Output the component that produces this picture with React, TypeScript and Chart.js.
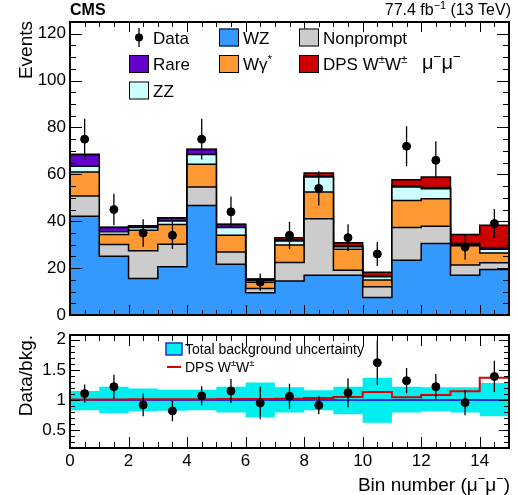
import React, { useEffect, useRef } from "react";
import { Chart, registerables } from "chart.js";
Chart.register(...registerables);

const FONT = '"Liberation Sans", Arial, Helvetica, sans-serif';

// ---- data ----
const binEdges = [0, 1, 2, 3, 4, 5, 6, 7, 8, 9, 10, 11, 12, 13, 14, 15];
const binCenters = [0.5, 1.5, 2.5, 3.5, 4.5, 5.5, 6.5, 7.5, 8.5, 9.5, 10.5, 11.5, 12.5, 13.5, 14.5];

const wz = [42.1, 25.1, 15.6, 20.6, 46.7, 21.7, 9.5, 14.5, 17.0, 17.0, 7.5, 23.4, 30.5, 17.0, 19.4];
const nonprompt = [8.7, 5.0, 11.8, 9.6, 7.9, 5.2, 1.8, 7.9, 24.1, 2.1, 4.5, 13.9, 7.4, 4.3, 2.9];
const wgamma = [10.2, 4.2, 8.8, 8.4, 9.7, 7.1, 2.7, 7.5, 11.4, 8.9, 2.9, 11.6, 11.7, 8.2, 4.2];
const zz = [2.5, 1.2, 1.1, 1.5, 4.2, 3.3, 0.7, 1.7, 6.4, 1.1, 1.4, 5.7, 4.3, 0.7, 1.5];
const rare = [4.9, 1.8, 0.7, 1.3, 2.1, 1.3, 0.5, 0.5, 0.4, 0.4, 0.3, 0.4, 0.5, 0.3, 0.7];
const dps = [0.2, 0.1, 0.1, 0.1, 0.1, 0.1, 0.2, 0.9, 1.3, 1.3, 1.6, 2.7, 4.5, 3.8, 9.6];

const dataCounts = [75, 45, 35, 34, 75, 44, 14, 34, 54, 33, 26, 72, 66, 29, 39];
const dataErr = [8.7, 6.7, 5.9, 5.8, 8.7, 6.6, 3.7, 5.8, 7.3, 5.7, 5.1, 8.5, 8.1, 5.4, 6.2];

const ratioData = [1.105, 1.22, 0.917, 0.817, 1.067, 1.15, 0.95, 1.06, 0.91, 1.12, 1.62, 1.32, 1.22, 0.955, 1.39];
const ratioErr = [0.15, 0.2, 0.19, 0.17, 0.16, 0.2, 0.27, 0.21, 0.15, 0.24, 0.37, 0.21, 0.21, 0.21, 0.26];
const bandUp = [0.15, 0.22, 0.19, 0.17, 0.17, 0.22, 0.29, 0.21, 0.16, 0.22, 0.37, 0.22, 0.21, 0.21, 0.28];
const bandDn = [0.17, 0.22, 0.19, 0.18, 0.17, 0.21, 0.29, 0.21, 0.17, 0.24, 0.38, 0.21, 0.19, 0.21, 0.27];
const dpsRatio = [1.005, 1.005, 1.01, 1.01, 1.01, 1.015, 1.015, 1.02, 1.03, 1.05, 1.13, 1.045, 1.08, 1.145, 1.37];

const topYTicks = [0, 20, 40, 60, 80, 100, 120];
const ratioYTicks = [0.5, 1, 1.5, 2];
const xTicks = [0, 2, 4, 6, 8, 10, 12, 14];

const layerNames = ["WZ", "Nonprompt", "Wγ*", "ZZ", "Rare", "DPS W±W±"];
const layerColors = ["#3399ff", "#cccccc", "#ff9933", "#ccffff", "#6600cc", "#cc0000"];
const layerValues = [wz, nonprompt, wgamma, zz, rare, dps];

// ---- helpers ----
const range = (a: number, b: number, s: number) => {
  const out: number[] = [];
  for (let v = a; v <= b + 1e-9; v += s) out.push(Math.round(v * 1000) / 1000);
  return out;
};

function hist(vals: number[]) {
  const pts: { x: number; y: number }[] = [];
  vals.forEach((v, i) => {
    pts.push({ x: binEdges[i], y: v });
    pts.push({ x: binEdges[i + 1], y: v });
  });
  return pts;
}

type Run = { t: string; sup?: boolean };
function drawRich(ctx: CanvasRenderingContext2D, runs: Run[], x: number, baseline: number, size: number, align: "left" | "right", weight = "") {
  const supSize = size * 0.68;
  const widths = runs.map((r) => {
    ctx.font = `${weight} ${r.sup ? supSize : size}px ${FONT}`;
    return ctx.measureText(r.t).width;
  });
  const total = widths.reduce((a, b) => a + b, 0);
  let cx = align === "right" ? x - total : x;
  ctx.textAlign = "left";
  ctx.textBaseline = "alphabetic";
  runs.forEach((r, i) => {
    ctx.font = `${weight} ${r.sup ? supSize : size}px ${FONT}`;
    ctx.fillText(r.t, cx, r.sup ? baseline - size * 0.4 : baseline);
    cx += widths[i];
  });
}

function frameTicks(o: { xMaj: number[]; xMin: number[]; yMaj: number[]; yMin: number[]; xMajLen: number; xMinLen: number; yMajLen: number; yMinLen: number }) {
  return {
    id: "frameTicks",
    afterDatasetsDraw(chart: any) {
      const { ctx, chartArea, scales } = chart;
      const { left, right, top, bottom } = chartArea;
      const x = scales.x, y = scales.y;
      ctx.save();
      ctx.strokeStyle = "#000";
      ctx.lineWidth = 1;
      ctx.beginPath();
      const xt = (vals: number[], len: number) => vals.forEach((v) => {
        const px = Math.round(x.getPixelForValue(v)) + 0.5;
        ctx.moveTo(px, bottom); ctx.lineTo(px, bottom - len);
        ctx.moveTo(px, top); ctx.lineTo(px, top + len);
      });
      const yt = (vals: number[], len: number) => vals.forEach((v) => {
        const py = Math.round(y.getPixelForValue(v)) + 0.5;
        ctx.moveTo(left, py); ctx.lineTo(left + len, py);
        ctx.moveTo(right, py); ctx.lineTo(right - len, py);
      });
      xt(o.xMaj, o.xMajLen); xt(o.xMin, o.xMinLen);
      yt(o.yMaj, o.yMajLen); yt(o.yMin, o.yMinLen);
      ctx.stroke();
      ctx.lineWidth = 2;
      ctx.strokeRect(left, top, right - left, bottom - top);
      ctx.restore();
    },
  };
}

function errorBars(xs: number[], ys: number[], errs: number[]) {
  return {
    id: "errorBars",
    afterDatasetsDraw(chart: any) {
      const { ctx, scales } = chart;
      ctx.save();
      ctx.strokeStyle = "#000";
      ctx.lineWidth = 1.3;
      ctx.beginPath();
      xs.forEach((xv, i) => {
        const px = scales.x.getPixelForValue(xv);
        ctx.moveTo(px, scales.y.getPixelForValue(ys[i] - errs[i]));
        ctx.lineTo(px, scales.y.getPixelForValue(ys[i] + errs[i]));
      });
      ctx.stroke();
      ctx.restore();
    },
  };
}

const topText = {
  id: "topText",
  afterDraw(chart: any) {
    const ctx: CanvasRenderingContext2D = chart.ctx;
    ctx.save();
    ctx.fillStyle = "#000";
    drawRich(ctx, [{ t: "CMS" }], 70, 15, 16, "left", "bold");
    drawRich(ctx, [{ t: "77.4 fb" }, { t: "−1", sup: true }, { t: " (13 TeV)" }], 511, 15, 16, "right");
    ctx.save();
    ctx.translate(32, 21);
    ctx.rotate(-Math.PI / 2);
    drawRich(ctx, [{ t: "Events" }], 0, 0, 19, "right");
    ctx.restore();

    // legend
    const rows = [37.5, 64, 90.5];
    const colBox = [129, 219, 299];
    const box = (cx: number, cy: number, color: string) => {
      ctx.fillStyle = color;
      ctx.fillRect(cx, cy - 9, 20, 18);
      ctx.strokeStyle = "#000";
      ctx.lineWidth = 1;
      ctx.strokeRect(cx + 0.5, cy - 9 + 0.5, 19, 17);
      ctx.fillStyle = "#000";
    };
    // Data marker
    ctx.strokeStyle = "#000";
    ctx.lineWidth = 1.3;
    ctx.beginPath();
    ctx.moveTo(139, rows[0] - 9.5);
    ctx.lineTo(139, rows[0] + 9.5);
    ctx.stroke();
    ctx.beginPath();
    ctx.arc(139, rows[0], 4, 0, Math.PI * 2);
    ctx.fill();
    drawRich(ctx, [{ t: "Data" }], colBox[0] + 24, rows[0] + 6, 17, "left");
    const entries: [number, number, Run[]][] = [
      [1, 0, [{ t: "WZ" }]],
      [2, 0, [{ t: "Nonprompt" }]],
      [0, 1, [{ t: "Rare" }]],
      [1, 1, [{ t: "Wγ" }, { t: "*", sup: true }]],
      [2, 1, [{ t: "DPS W" }, { t: "±", sup: true }, { t: "W" }, { t: "±", sup: true }]],
      [0, 2, [{ t: "ZZ" }]],
    ];
    const colorFor = ["WZ", "Nonprompt", "Rare", "Wγ*", "DPS W±W±", "ZZ"];
    entries.forEach(([c, r, runs], i) => {
      box(colBox[c], rows[r], layerColors[layerNames.indexOf(colorFor[i])]);
      drawRich(ctx, runs, colBox[c] + 24, rows[r] + 6, 17, "left");
    });
    drawRich(ctx, [{ t: "μ" }, { t: "−", sup: true }, { t: "μ" }, { t: "−", sup: true }], 422, 69, 20, "left");
    ctx.restore();
  },
};

const botText = {
  id: "botText",
  afterDraw(chart: any) {
    const ctx: CanvasRenderingContext2D = chart.ctx;
    ctx.save();
    ctx.fillStyle = "#000";
    ctx.save();
    ctx.translate(32, 15);
    ctx.rotate(-Math.PI / 2);
    drawRich(ctx, [{ t: "Data/bkg." }], 0, 0, 19, "right");
    ctx.restore();
    drawRich(ctx, [{ t: "Bin number (μ" }, { t: "−", sup: true }, { t: "μ" }, { t: "−", sup: true }, { t: ")" }], 510, 171, 19, "right");
    // legend
    ctx.fillStyle = "#00eeee";
    ctx.fillRect(166, 23, 16, 12);
    ctx.strokeStyle = "#2233cc";
    ctx.lineWidth = 1.5;
    ctx.strokeRect(166, 23, 16, 12);
    ctx.fillStyle = "#000";
    drawRich(ctx, [{ t: "Total background uncertainty" }], 185, 33.5, 14, "left");
    ctx.strokeStyle = "#dd0000";
    ctx.lineWidth = 2;
    ctx.beginPath();
    ctx.moveTo(167, 47);
    ctx.lineTo(181, 47);
    ctx.stroke();
    drawRich(ctx, [{ t: "DPS W" }, { t: "±", sup: true }, { t: "W" }, { t: "±", sup: true }], 185, 52, 14, "left");
    ctx.restore();
  },
};

export default function App() {
  const topRef = useRef<HTMLCanvasElement>(null);
  const botRef = useRef<HTMLCanvasElement>(null);

  useEffect(() => {
    // cumulative stacks
    const cum: number[][] = [];
    layerValues.forEach((vals, k) => {
      cum.push(vals.map((v, i) => (k === 0 ? v : cum[k - 1][i] + v)));
    });

    const layerDatasets = cum.map((c, k) => ({
      type: "line" as const,
      label: layerNames[k],
      data: hist(c),
      borderColor: "#000",
      borderWidth: 1.5,
      backgroundColor: layerColors[k],
      fill: k === 0 ? "origin" : "-1",
      pointRadius: 0,
      tension: 0,
      order: 1,
    }));

    const tickFont = { family: FONT, size: 17 };

    const c1 = new Chart(topRef.current!, {
      type: "line",
      data: {
        datasets: [
          ...layerDatasets,
          {
            type: "line",
            label: "Data",
            data: binCenters.map((x, i) => ({ x, y: dataCounts[i] })),
            showLine: false,
            pointRadius: 4,
            pointBackgroundColor: "#000",
            pointBorderColor: "#000",
            order: 0,
          },
        ] as any,
      },
      options: {
        animation: false,
        responsive: false,
        devicePixelRatio: 1,
        layout: { padding: { left: 0, right: 9, top: 22, bottom: 15 } },
        plugins: { legend: { display: false }, tooltip: { enabled: false } },
        scales: {
          x: { type: "linear", min: 0, max: 15, display: false },
          y: {
            type: "linear",
            min: 0,
            max: 125,
            grid: { display: false, drawTicks: false },
            border: { display: false },
            afterFit: (s: any) => { s.width = 70; },
            afterBuildTicks: (s: any) => { s.ticks = topYTicks.map((v) => ({ value: v })); },
            ticks: { font: tickFont, color: "#000", padding: 4, callback: (v: any) => String(v) },
          },
        },
      } as any,
      plugins: [
        errorBars(binCenters, dataCounts, dataErr),
        frameTicks({
          xMaj: xTicks, xMin: range(0, 15, 0.5), yMaj: topYTicks, yMin: range(0, 125, 5),
          xMajLen: 10, xMinLen: 5, yMajLen: 12, yMinLen: 6,
        }),
        topText,
      ],
    });

    const c2 = new Chart(botRef.current!, {
      type: "line",
      data: {
        datasets: [
          { type: "line", data: hist(bandDn.map((d) => 1 - d)), borderWidth: 0, pointRadius: 0, fill: false, order: 3 },
          { type: "line", data: hist(bandUp.map((u) => 1 + u)), borderWidth: 0, pointRadius: 0, fill: "-1", backgroundColor: "#00eeee", order: 3 },
          { type: "line", data: [{ x: 0, y: 1 }, { x: 15, y: 1 }], borderColor: "#1a33dd", borderWidth: 2, pointRadius: 0, fill: false, order: 2 },
          { type: "line", data: hist(dpsRatio), borderColor: "#dd0000", borderWidth: 2, pointRadius: 0, fill: false, order: 1 },
          {
            type: "line",
            data: binCenters.map((x, i) => ({ x, y: ratioData[i] })),
            showLine: false,
            pointRadius: 4,
            pointBackgroundColor: "#000",
            pointBorderColor: "#000",
            order: 0,
          },
        ] as any,
      },
      options: {
        animation: false,
        responsive: false,
        devicePixelRatio: 1,
        layout: { padding: { left: 0, right: 9, top: 15, bottom: 0 } },
        plugins: { legend: { display: false }, tooltip: { enabled: false } },
        scales: {
          x: {
            type: "linear",
            min: 0,
            max: 15,
            grid: { display: false, drawTicks: false },
            border: { display: false },
            afterFit: (s: any) => { s.height = 47; },
            afterBuildTicks: (s: any) => { s.ticks = xTicks.map((v) => ({ value: v })); },
            ticks: { font: tickFont, color: "#000", padding: 3, maxRotation: 0, autoSkip: false, callback: (v: any) => String(v) },
          },
          y: {
            type: "linear",
            min: 0.2,
            max: 2.08,
            grid: { display: false, drawTicks: false },
            border: { display: false },
            afterFit: (s: any) => { s.width = 70; },
            afterBuildTicks: (s: any) => { s.ticks = ratioYTicks.map((v) => ({ value: v })); },
            ticks: { font: tickFont, color: "#000", padding: 4, callback: (v: any) => String(v) },
          },
        },
      } as any,
      plugins: [
        errorBars(binCenters, ratioData, ratioErr),
        frameTicks({
          xMaj: xTicks, xMin: range(0, 15, 0.5), yMaj: ratioYTicks, yMin: range(0.2, 2.0, 0.1),
          xMajLen: 11, xMinLen: 6, yMajLen: 10, yMinLen: 5,
        }),
        botText,
      ],
    });

    return () => {
      c1.destroy();
      c2.destroy();
    };
  }, []);

  return (
    <div style={{ position: "fixed", left: 0, top: 0, width: 518, height: 495, background: "#fff" }}>
      <canvas ref={topRef} width={518} height={330} style={{ position: "absolute", left: 0, top: 0, width: 518, height: 330, display: "block" }} />
      <canvas ref={botRef} width={518} height={175} style={{ position: "absolute", left: 0, top: 320, width: 518, height: 175, display: "block" }} />
    </div>
  );
}
